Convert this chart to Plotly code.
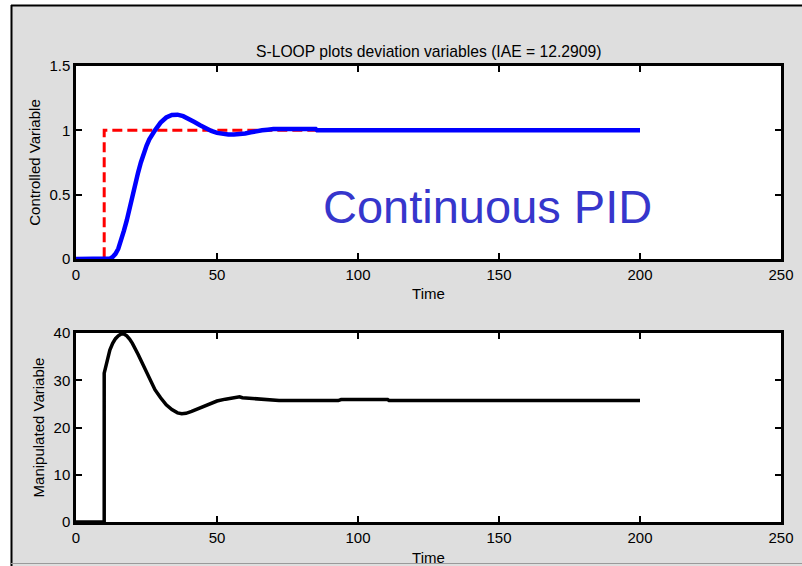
import plotly.graph_objects as go

# ---- data ----
t_sp = [0, 10, 10, 200]
sp = [0, 0, 1, 1]

t_cv = [0, 11, 12, 13, 14, 15, 16, 17, 18, 19, 20, 21, 22, 23, 24, 25, 26, 27, 28, 30, 32, 34, 35, 36,
        38, 40, 42, 44, 46, 48, 50, 52, 54, 56, 58, 60, 62, 64, 66, 68, 70, 85, 85.5, 200]
cv = [0, 0, 0.003, 0.015, 0.04, 0.08, 0.14, 0.22, 0.30, 0.40, 0.50, 0.59, 0.67, 0.75, 0.82, 0.88, 0.93,
      0.97, 1.0, 1.06, 1.10, 1.12, 1.125, 1.122, 1.11, 1.09, 1.065, 1.04, 1.015, 0.995, 0.98, 0.972,
      0.968, 0.968, 0.97, 0.975, 0.985, 0.995, 1.0, 1.005, 1.01, 1.01, 1.0, 1.0]

t_mv = [0, 10, 10, 11, 12, 13, 14, 15, 16, 17, 18, 19, 20, 22, 24, 26, 28, 30, 32, 34, 36, 37.5, 39, 41,
        44, 47, 50, 53, 56, 58, 59, 62, 66, 71, 72, 93, 94, 110.5, 111, 200]
mv = [0, 0, 31.5, 34, 36.4, 37.8, 38.8, 39.4, 39.8, 39.8, 39.4, 38.7, 37.8, 35.5, 33, 30.2, 28, 26.3,
      24.8, 23.8, 23.1, 22.9, 23.0, 23.4, 24.2, 25.0, 25.6, 26.0, 26.2, 26.5, 26.3, 26.2, 26.0, 25.9,
      25.7, 25.7, 25.9, 25.9, 25.7, 25.7]

x_ticks = [0, 50, 100, 150, 200, 250]
y1_ticks = [0, 0.5, 1, 1.5]
y2_ticks = [0, 10, 20, 30, 40]

title_text = "S-LOOP plots deviation variables (IAE = 12.2909)"
label_text = "Continuous PID"

W, H = 802, 566
FONT = "Arial, Liberation Sans, sans-serif"
GRAY = "#DEDEDE"
FS = 15

def px(x):
    return x / W

def py(y):
    return 1 - y / H

fig = go.Figure()
fig.add_trace(go.Scatter(x=t_sp, y=sp, mode="lines", xaxis="x", yaxis="y",
                         line=dict(color="#FF0000", width=3, dash="10px,5px"), showlegend=False))
fig.add_trace(go.Scatter(x=t_cv, y=cv, mode="lines", xaxis="x", yaxis="y",
                         line=dict(color="#0000FF", width=4.5), showlegend=False))
fig.add_trace(go.Scatter(x=t_mv, y=mv, mode="lines", xaxis="x2", yaxis="y2",
                         line=dict(color="#000000", width=3.5), showlegend=False))

axis_common = dict(showline=True, linecolor="black", linewidth=2.5, mirror="ticks",
                   ticks="inside", ticklen=6, tickwidth=2, tickcolor="black",
                   showgrid=False, zeroline=False, automargin=False,
                   tickfont=dict(family=FONT, size=FS, color="black"))

title_font = dict(family=FONT, size=FS, color="black")

fig.update_layout(
    template="none",
    width=W, height=H,
    margin=dict(l=0, r=0, t=0, b=0, pad=0),
    paper_bgcolor=GRAY, plot_bgcolor="white",
    xaxis=dict(domain=[px(76), px(781)], anchor="y", range=[0, 250], tickvals=x_ticks,
               title=dict(text="Time", font=title_font, standoff=7), **axis_common),
    yaxis=dict(domain=[py(259), py(66)], anchor="x", range=[0, 1.5], tickvals=y1_ticks,
               title=dict(text="Controlled Variable", font=title_font, standoff=6), **axis_common),
    xaxis2=dict(domain=[px(76), px(781)], anchor="y2", range=[0, 250], tickvals=x_ticks,
                title=dict(text="Time", font=title_font, standoff=8), **axis_common),
    yaxis2=dict(domain=[py(522), py(333)], anchor="x2", range=[0, 40], tickvals=y2_ticks,
                title=dict(text="Manipulated Variable", font=title_font, standoff=6), **axis_common),
    annotations=[
        dict(text=title_text, x=px(428.5), y=py(52), xref="paper", yref="paper",
             showarrow=False, xanchor="center", yanchor="middle",
             font=dict(family=FONT, size=15.7, color="black")),
        dict(text=label_text, x=px(487.5), y=py(207), xref="paper", yref="paper",
             showarrow=False, xanchor="center", yanchor="middle",
             font=dict(family=FONT, size=47, color="#3636CC")),
    ],
    shapes=[
        dict(type="rect", xref="paper", yref="paper", x0=0, x1=px(11), y0=0, y1=1,
             fillcolor="white", line=dict(width=0), layer="above"),
        dict(type="rect", xref="paper", yref="paper", x0=0, x1=1, y0=py(5), y1=1,
             fillcolor="white", line=dict(width=0), layer="above"),
        dict(type="line", xref="paper", yref="paper", x0=px(11), x1=1, y0=py(5.5), y1=py(5.5),
             line=dict(color="black", width=2), layer="above"),
        dict(type="line", xref="paper", yref="paper", x0=px(11.5), x1=px(11.5), y0=0, y1=py(5),
             line=dict(color="black", width=2), layer="above"),
        dict(type="line", xref="paper", yref="paper", x0=px(11), x1=1, y0=py(563.5), y1=py(563.5),
             line=dict(color="#9A9A9A", width=1), layer="above"),
    ],
)

fig.write_html("out.html",
               config={"displayModeBar": False},
               post_script="document.body.style.margin='0';document.body.style.overflow='hidden';")
